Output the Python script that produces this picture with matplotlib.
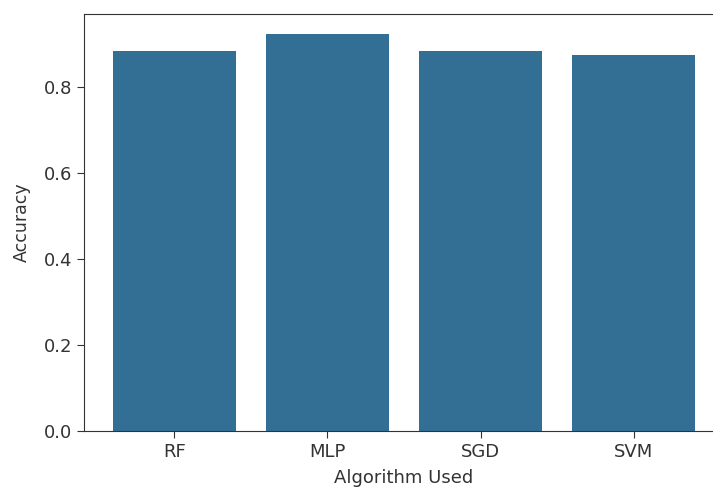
import matplotlib
matplotlib.use('Agg')
import matplotlib.pyplot as plt
import numpy as np

algorithms = ['RF', 'MLP', 'SGD', 'SVM']
accuracy = [0.884, 0.923, 0.884, 0.874]

BAR = '#336f94'
INK = '#333333'

fig = plt.figure(figsize=(7.13, 4.91), dpi=100)
# axes runs a bit past the right edge, as in the cropped original
ax = fig.add_axes([84/713, 60/491, (724-84)/713, (431-14)/491])
x = np.arange(len(algorithms))
ax.bar(x, accuracy, width=0.8, color=BAR)
ax.set_xticks(x)
ax.set_xticklabels(algorithms)
ax.set_yticks([0.0, 0.2, 0.4, 0.6, 0.8])
ax.set_xlabel('Algorithm Used', fontsize=13, color=INK, labelpad=6)
ax.set_ylabel('Accuracy', fontsize=12.5, color=INK, labelpad=9)
ax.tick_params(labelsize=13, colors=INK, length=5)
for s in ax.spines.values():
    s.set_color(INK)
ax.spines['right'].set_visible(False)
fig.savefig('out.png', dpi=100)
